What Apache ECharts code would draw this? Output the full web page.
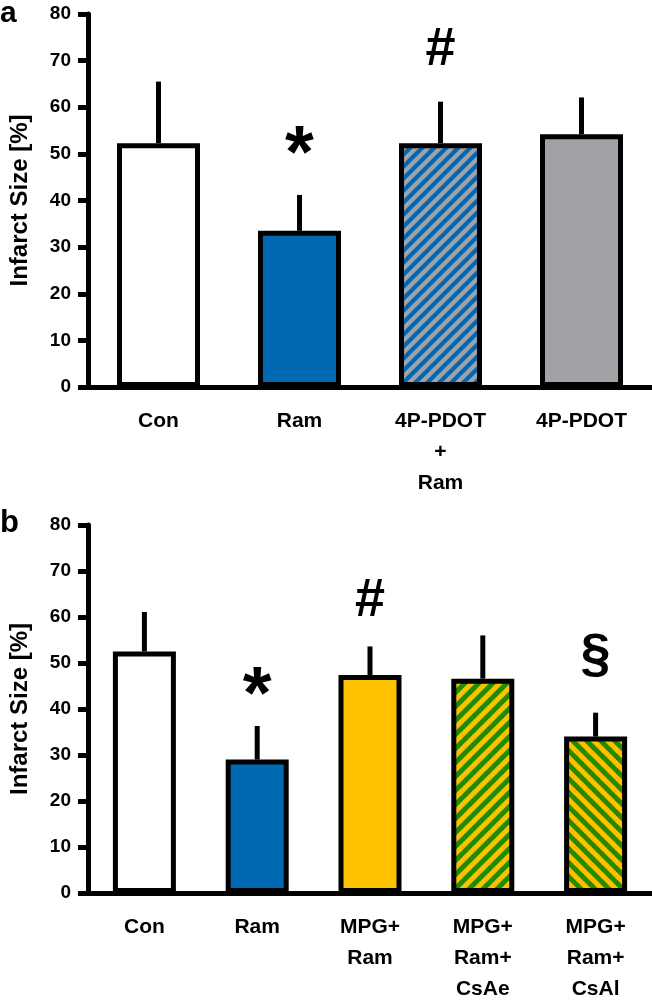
<!DOCTYPE html>
<html>
<head>
<meta charset="utf-8">
<script src="https://cdn.jsdelivr.net/npm/echarts@6/dist/echarts.min.js"></script>
<style>html,body{margin:0;padding:0;background:#fff;}#c{width:652px;height:1005px;}</style>
</head>
<body>
<div id="c"></div>
<script>
// ---- Panel a ----
const catsA = ['Con', 'Ram', '4P-PDOT\n+\nRam', '4P-PDOT'];
const meanA = [52.3, 33.5, 52.3, 54.2];
const upperA = [65.5, 41.2, 61.2, 62.1];
const fillsA = ['white', 'blue', 'hatchBlueGray', 'gray'];
const marksA = [[1, '*', 53.0], [2, '#', 72.3]];

// ---- Panel b ----
const catsB = ['Con', 'Ram', 'MPG+\nRam', 'MPG+\nRam+\nCsAe', 'MPG+\nRam+\nCsAl'];
const meanB = [52.5, 29.0, 47.4, 46.6, 34.0];
const upperB = [61.1, 36.3, 53.6, 56.0, 39.2];
const fillsB = ['white', 'blue', 'yellow', 'hatchGreenYellowR', 'hatchGreenYellowL'];
const marksB = [[1, '*', 46.0], [2, '#', 63.5], [4, '§', 51.0]];

const yTicks = [0, 10, 20, 30, 40, 50, 60, 70, 80];

const FONT = '"Liberation Sans", Arial, Helvetica, sans-serif';
const BLUE = '#0069b4', GRAY = '#a2a1a6', YELLOW = '#ffc000', GREEN = '#238b00';

function stripes(bg, fg, P, dir) {
  const c = document.createElement('canvas');
  c.width = P; c.height = P;
  const ctx = c.getContext('2d');
  ctx.fillStyle = bg; ctx.fillRect(0, 0, P, P);
  ctx.strokeStyle = fg; ctx.lineWidth = P * 0.354;
  for (const k of [-1, 0, 1]) {
    ctx.beginPath();
    if (dir === '/') { ctx.moveTo(k * P - P * 0.5, P * 1.5); ctx.lineTo(k * P + P * 1.5, -P * 0.5); }
    else { ctx.moveTo(k * P - P * 0.5, -P * 0.5); ctx.lineTo(k * P + P * 1.5, P * 1.5); }
    ctx.stroke();
  }
  return { image: c, repeat: 'repeat' };
}
const FILLS = {
  white: '#ffffff', blue: BLUE, gray: GRAY, yellow: YELLOW,
  hatchBlueGray: stripes(BLUE, GRAY, 12, '/'),
  hatchGreenYellowR: stripes(YELLOW, GREEN, 14, '/'),
  hatchGreenYellowL: stripes(YELLOW, GREEN, 14, '\\')
};
const MARK_FONT = { '*': 74, '#': 54, '§': 54 };
const MARK_DY = { '*': 0.22, '#': 0, '§': -0.04 };

function yAxis(gi) {
  return {
    type: 'value', gridIndex: gi, min: 0, max: 80, interval: 10,
    name: 'Infarct Size [%]', nameLocation: 'middle', nameGap: 56,
    nameTextStyle: { fontFamily: FONT, fontWeight: 'bold', fontSize: 24, color: '#000' },
    axisLine: { show: true, lineStyle: { color: '#000', width: 5 } },
    axisTick: { show: true, inside: false, length: 10, lineStyle: { color: '#000', width: 5 } },
    axisLabel: { fontFamily: FONT, fontWeight: 'bold', fontSize: 19, color: '#000', margin: 17,
      formatter: v => yTicks.includes(v) ? String(v) : '' },
    splitLine: { show: false }
  };
}
function xAxis(gi, cats) {
  return {
    type: 'category', gridIndex: gi, data: cats,
    axisLine: { show: true, lineStyle: { color: '#000', width: 5 } },
    axisTick: { show: false },
    axisLabel: { interval: 0, fontFamily: FONT, fontWeight: 'bold', fontSize: 21, color: '#000',
      lineHeight: 31, margin: 19 }
  };
}
function barSeries(gi, means, fills, bw) {
  return {
    type: 'bar', xAxisIndex: gi, yAxisIndex: gi, barWidth: bw, z: 3,
    data: means.map((v, i) => ({ value: v, itemStyle: { color: FILLS[fills[i]] } })),
    itemStyle: { borderColor: '#000', borderWidth: 5 },
    emphasis: { disabled: true }, animation: false
  };
}
function errSeries(gi, means, upper) {
  return {
    type: 'custom', xAxisIndex: gi, yAxisIndex: gi, z: 2, animation: false,
    data: means.map((v, i) => [i, v, upper[i]]),
    renderItem: (params, api) => {
      const p0 = api.coord([api.value(0), api.value(1)]);
      const p1 = api.coord([api.value(0), api.value(2)]);
      return { type: 'line', shape: { x1: p0[0], y1: p0[1], x2: p1[0], y2: p1[1] },
        style: { stroke: '#000', lineWidth: 5 } };
    }
  };
}
function markSeries(gi, marks) {
  return {
    type: 'custom', xAxisIndex: gi, yAxisIndex: gi, z: 5, animation: false,
    data: marks.map(m => [m[0], m[2], m[1]]),
    renderItem: (params, api) => {
      const m = marks[params.dataIndex];
      const p = api.coord([m[0], m[2]]);
      const fs = MARK_FONT[m[1]];
      return { type: 'text', x: p[0], y: p[1] + MARK_DY[m[1]] * fs,
        style: { text: m[1], fill: '#000', align: 'center', verticalAlign: 'middle',
          font: 'bold ' + fs + 'px ' + FONT } };
    }
  };
}

const chart = echarts.init(document.getElementById('c'), null, { renderer: 'canvas' });
chart.setOption({
  animation: false,
  backgroundColor: '#fff',
  grid: [
    { left: 88, top: 14, width: 564, height: 373 },
    { left: 88, top: 525, width: 564, height: 373 }
  ],
  xAxis: [xAxis(0, catsA), xAxis(1, catsB)],
  yAxis: [yAxis(0), yAxis(1)],
  series: [
    barSeries(0, meanA, fillsA, 83), errSeries(0, meanA, upperA), markSeries(0, marksA),
    barSeries(1, meanB, fillsB, 63), errSeries(1, meanB, upperB), markSeries(1, marksB)
  ],
  graphic: [
    { type: 'text', left: 0, top: -1, style: { text: 'a', font: 'bold 30px ' + FONT, fill: '#000' } },
    { type: 'text', left: 0, top: 508, style: { text: 'b', font: 'bold 31px ' + FONT, fill: '#000' } }
  ]
});
</script>
</body>
</html>
